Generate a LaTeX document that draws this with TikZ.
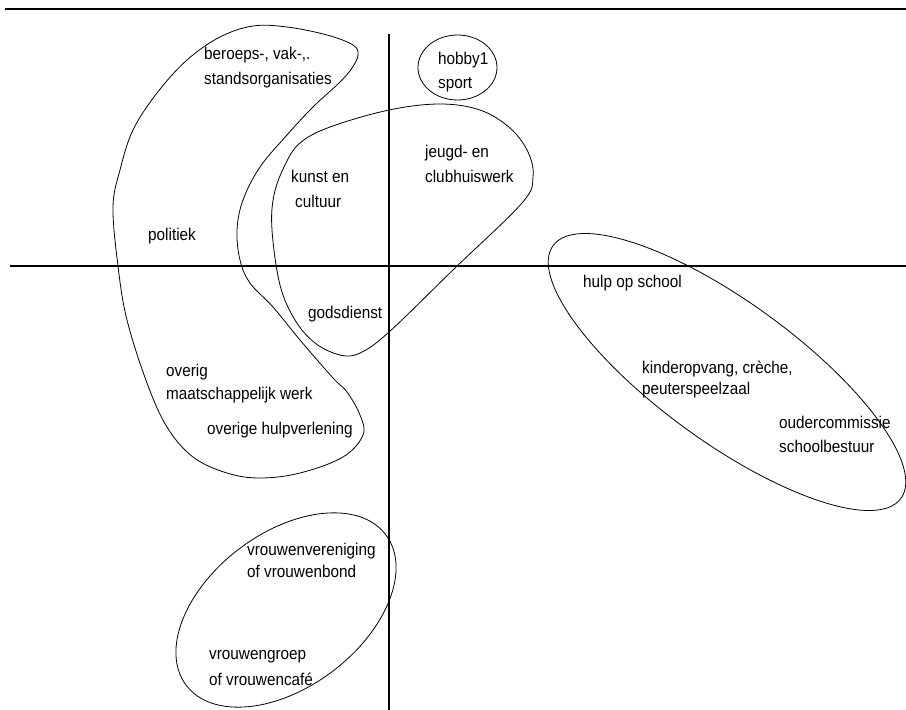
\documentclass[tikz,border=0pt]{standalone}
\usepackage{fontspec}
\setmainfont[FakeStretch=0.9]{Liberation Sans}
\begin{document}
\begin{tikzpicture}[x=1pt,y=1pt,
  lbl/.style={anchor=base west, inner sep=0pt, font=\fontsize{17}{24}\selectfont},
  blob/.style={line width=0.8pt},
  axis/.style={line width=1.2pt}]
\useasboundingbox (0,0) rectangle (906,-710);
% top rule and axes
\coordinate (topL) at (5,-9);
\coordinate (topR) at (906,-9);
\draw[line width=2.5pt] (topL) -- (topR);
\coordinate (hL) at (10,-266);
\coordinate (hR) at (906,-266);
\coordinate (vT) at (389,-34);
\coordinate (vB) at (389,-710);
\draw[axis] (hL) -- (hR);
\draw[axis] (vT) -- (vB);
% ellipses
\draw[blob] (457.5,-67.5) ellipse [x radius=39.5, y radius=32.5];
\draw[blob, rotate around={-36:(727,-372)}] (727,-372) ellipse [x radius=215, y radius=70];
\draw[blob, rotate around={37:(286,-610)}] (286,-610) ellipse [x radius=125, y radius=77];
% kunst / jeugd blob
\draw[blob] plot[smooth cycle, tension=0.6] coordinates {
 (272,-230) (274,-195) (285,-165) (300,-143) (330,-127) (389,-110) (440,-104)
 (480,-110) (510,-128) (528,-152) (533,-177) (522,-203) (455,-268) (389,-332)
 (360,-353) (340,-355) (315,-343) (295,-320) (280,-285)};
% big left blob
\draw[blob] plot[smooth cycle, tension=0.6] coordinates {
 (118,-266) (113,-207) (120,-170) (133,-130) (157,-93) (187,-60) (220,-37)
 (253,-26) (287,-27) (327,-35) (353,-45) (358,-55) (352,-68) (340,-82)
 (313,-107) (287,-135) (260,-167) (243,-200) (237,-230) (240,-260) (250,-283)
 (273,-307) (300,-340) (333,-378) (347,-392) (360,-415) (363,-435) (343,-457)
 (300,-473) (260,-478) (227,-473) (193,-457) (167,-427) (147,-383) (127,-320)};
% labels
\node[lbl] (beroeps1) at (204,-59) {beroeps-, vak-,.};
\node[lbl] (beroeps2) at (204,-84) {standsorganisaties};
\node[lbl] (hobby1) at (438,-64) {hobby1};
\node[lbl] (hobby2) at (438,-88) {sport};
\node[lbl] (jeugd1) at (425,-157) {jeugd- en};
\node[lbl] (jeugd2) at (425,-182) {clubhuiswerk};
\node[lbl] (kunst1) at (291,-182) {kunst en};
\node[lbl] (kunst2) at (295,-207) {cultuur};
\node[lbl] (politiek) at (148,-240) {politiek};
\node[lbl] (gods) at (308,-318) {godsdienst};
\node[lbl] (overig1) at (166,-376) {overig};
\node[lbl] (overig2) at (166,-399) {maatschappelijk werk};
\node[lbl] (hulpv) at (207,-434) {overige hulpverlening};
\node[lbl] (hulp) at (583,-287) {hulp op school};
\node[lbl] (kinder1) at (642,-373) {kinderopvang, crèche,};
\node[lbl] (kinder2) at (642,-394) {peuterspeelzaal};
\node[lbl] (ouder1) at (779,-428) {oudercommissie};
\node[lbl] (ouder2) at (779,-452) {schoolbestuur};
\node[lbl] (vv1) at (247,-555) {vrouwenvereniging};
\node[lbl] (vv2) at (247,-577) {of vrouwenbond};
\node[lbl] (vg1) at (209,-659) {vrouwengroep};
\node[lbl] (vg2) at (209,-685) {of vrouwencafé};
\end{tikzpicture}
\end{document}
